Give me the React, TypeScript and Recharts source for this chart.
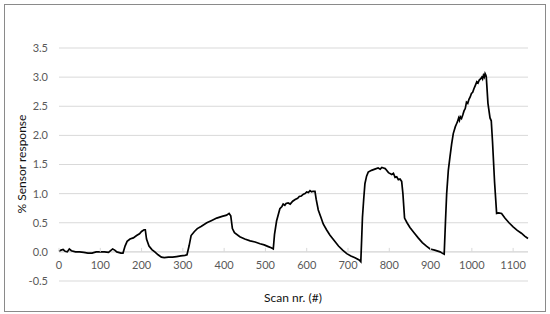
import React from 'react';
import { LineChart, Line, XAxis, YAxis, CartesianGrid, ReferenceLine } from 'recharts';

const scans = [
  0, 5, 10, 15, 20, 25, 30, 40, 50, 60, 70, 80, 90, 100, 110, 120, 125, 130, 135, 140, 150,
  155, 160, 165, 172, 180, 188, 195, 200, 206, 209, 212, 218, 225, 232, 240, 248, 255, 265,
  275, 285, 295, 305, 310, 315, 320, 328, 335, 345, 358, 370, 382, 395, 406, 412, 416, 420,
  425, 438, 450, 463, 475, 487, 497, 507, 514, 519, 522, 527, 535, 540, 543, 547, 550, 555, 560, 566, 572, 578, 582,
  587, 592, 596, 600, 604, 608, 612, 615, 620, 623, 628, 635, 640, 648, 656, 666, 677, 687, 697, 707, 717, 727,
  731, 733, 735, 738, 741, 745, 749, 757, 765, 773, 778, 782, 786, 790, 798, 806, 810, 814, 818, 822, 826, 830, 833,
  837, 843, 850, 860, 870, 880, 890, 899, 910, 923, 930, 933, 936, 939, 943, 947, 951, 955,
  960, 963, 965, 968, 970, 972, 975, 978, 981, 984, 987, 990, 993, 996, 999, 1002, 1005, 1008, 1012, 1015, 1018, 1021,
  1024, 1026, 1028, 1030, 1032, 1034, 1035, 1039,
  1044, 1047, 1050, 1055, 1060, 1065, 1072, 1080, 1090, 1100, 1110, 1120, 1128, 1136,
];

const response = [
  0.01, 0.03, 0.04, 0.01, 0.0, 0.05, 0.02, 0.0, 0.0, -0.01, -0.02, -0.02, 0.0, 0.0, 0.0, -0.01, 0.02, 0.05, 0.03, 0.0, -0.02,
  -0.02, 0.1, 0.18, 0.22, 0.24, 0.28, 0.31, 0.35, 0.38, 0.38, 0.22, 0.1, 0.04, 0.0, -0.05, -0.09, -0.1, -0.09,
  -0.09, -0.08, -0.07, -0.06, -0.05, 0.1, 0.28, 0.35, 0.4, 0.44, 0.5, 0.54, 0.58, 0.61, 0.63, 0.66, 0.62, 0.4,
  0.33, 0.26, 0.22, 0.19, 0.17, 0.14, 0.12, 0.09, 0.07, 0.05, 0.3, 0.53, 0.74, 0.78, 0.82, 0.8, 0.83, 0.84, 0.82, 0.87, 0.9, 0.92, 0.95,
  0.96, 0.99, 1.0, 1.03, 1.02, 1.05, 1.03, 1.04, 1.04, 0.9, 0.72, 0.58, 0.48, 0.38, 0.29, 0.2, 0.1, 0.03, -0.03, -0.07, -0.1, -0.14,
  -0.17, 0.2, 0.59, 0.9, 1.17, 1.3, 1.37, 1.4, 1.42, 1.44, 1.42, 1.45, 1.44, 1.43, 1.36, 1.33, 1.35, 1.28, 1.29, 1.24, 1.25, 1.21, 1.0,
  0.58, 0.5, 0.42, 0.33, 0.24, 0.16, 0.1, 0.05, 0.03, 0.0, -0.03, -0.04, 0.5, 1.0, 1.4, 1.63, 1.85, 2.03,
  2.15, 2.2, 2.23, 2.3, 2.26, 2.32, 2.29, 2.35, 2.42, 2.46, 2.57, 2.55, 2.62, 2.66, 2.72, 2.74, 2.8, 2.85, 2.92, 2.9, 2.95, 2.97,
  3.0, 2.97, 3.03, 3.0, 3.06, 3.03, 3.0, 2.55,
  2.3, 2.25, 1.9, 1.2, 0.66, 0.67, 0.66, 0.58, 0.5, 0.43, 0.37, 0.32, 0.27, 0.23,
];

const xTicks = [0, 100, 200, 300, 400, 500, 600, 700, 800, 900, 1000, 1100];
const yTicks = [-0.5, 0, 0.5, 1, 1.5, 2, 2.5, 3, 3.5];

const data = scans.map((s, i) => ({ scan: s, value: response[i] }));

const FONT = 'Lato, "Open Sans", sans-serif';

// x labels sit just under the zero line (Excel crosses the axis at 0)
const ZeroAxisTick = (props: any) => {
  const { x, y, payload } = props;
  const zeroY = y - 29.1;
  return (
    <g>
      <line x1={x} x2={x} y1={zeroY - 4} y2={zeroY} stroke="#d9d9d9" />
      <text x={x} y={zeroY + 17} textAnchor="middle" fill="#595959" fontSize={11} fontFamily={FONT}>
        {payload.value}
      </text>
    </g>
  );
};

export default function App() {
  return (
    <div style={{ position: 'absolute', left: 0, top: 0, width: 550, height: 314, background: '#fff' }}>
      <div
        style={{
          position: 'absolute',
          left: 4,
          top: 4,
          width: 540,
          height: 306,
          border: '1px solid #8a8a8a',
        }}
      />
      <LineChart width={550} height={314} data={data} margin={{ top: 48, right: 22, bottom: 13, left: 9 }}>
        <CartesianGrid horizontal vertical={false} stroke="#d9d9d9" />
        <XAxis
          dataKey="scan"
          type="number"
          domain={[0, 1136]}
          ticks={xTicks}
          height={20}
          axisLine={false}
          tickLine={false}
          tickSize={0}
          tickMargin={0}
          interval={0}
          tick={<ZeroAxisTick />}
        />
        <YAxis
          type="number"
          domain={[-0.5, 3.5]}
          ticks={yTicks}
          width={50}
          axisLine={false}
          tickLine={false}
          tickSize={0}
          tickMargin={11}
          tickFormatter={(v: number) => v.toFixed(1)}
          tick={{ fill: '#595959', fontSize: 11, fontFamily: FONT }}
        />
        <ReferenceLine y={0} stroke="#d9d9d9" />
        <Line
          type="linear"
          dataKey="value"
          stroke="#000"
          strokeWidth={1.7}
          dot={false}
          isAnimationActive={false}
        />
      </LineChart>
      <div
        style={{
          position: 'absolute',
          left: 21,
          top: 164,
          transform: 'translate(-50%, -50%) rotate(-90deg)',
          whiteSpace: 'nowrap',
          fontFamily: FONT,
          fontSize: 12,
          color: '#111',
        }}
      >
        % Sensor response
      </div>
      <div
        style={{
          position: 'absolute',
          left: 293,
          top: 297,
          transform: 'translate(-50%, -50%)',
          whiteSpace: 'nowrap',
          fontFamily: FONT,
          fontSize: 12,
          color: '#111',
        }}
      >
        Scan nr. (#)
      </div>
    </div>
  );
}
